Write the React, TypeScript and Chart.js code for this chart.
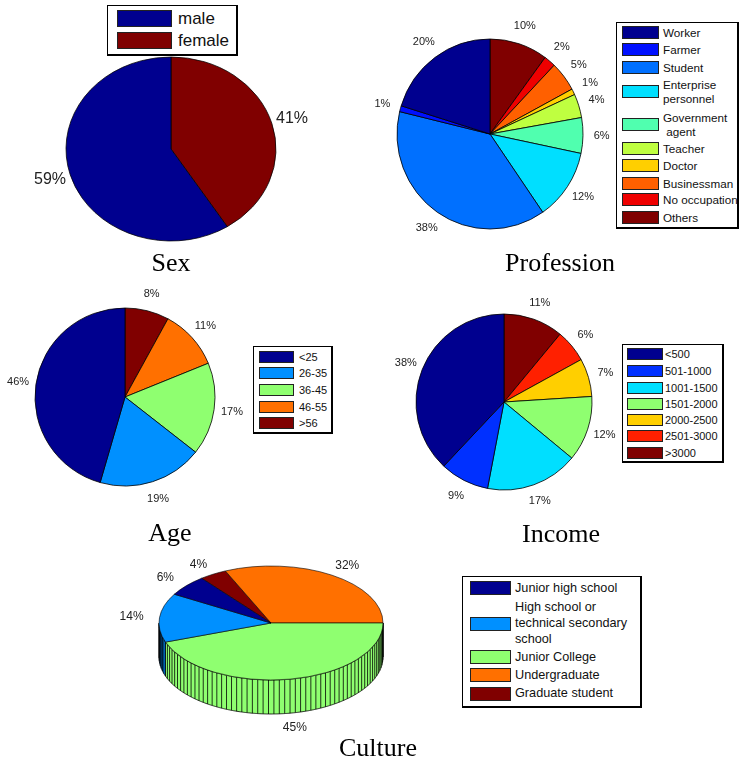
import React, { useEffect, useRef } from "react";
import { Chart, registerables } from "chart.js";

Chart.register(...registerables);

const W = 739;
const H = 764;

// ---------- DATA ----------
const sexLabels = ["male", "female"];
const sexValues = [59, 41];
const sexColors = ["#00008f", "#800000"];

const professionLabels = [
  "Worker",
  "Farmer",
  "Student",
  "Enterprise\npersonnel",
  "Government\n agent",
  "Teacher",
  "Doctor",
  "Businessman",
  "No occupation",
  "Others",
];
const professionValues = [20, 1, 38, 12, 6, 4, 1, 5, 2, 10];
const professionColors = [
  "#00008f",
  "#0010ff",
  "#0070ff",
  "#00dfff",
  "#50ffaf",
  "#bfff40",
  "#ffcf00",
  "#ff6000",
  "#ef0000",
  "#800000",
];

const ageLabels = ["<25", "26-35", "36-45", "46-55", ">56"];
const ageValues = [46, 19, 17, 11, 8];
const ageColors = ["#00008f", "#0090ff", "#8fff70", "#ff7000", "#800000"];

const incomeLabels = ["<500", "501-1000", "1001-1500", "1501-2000", "2000-2500", "2501-3000", ">3000"];
const incomeValues = [38, 9, 17, 12, 7, 6, 11];
const incomeColors = ["#00008f", "#0030ff", "#00dfff", "#8fff70", "#ffcf00", "#ff2000", "#800000"];

const cultureLabels = [
  "Junior high school",
  "High school or\ntechnical secondary\nschool",
  "Junior College",
  "Undergraduate",
  "Graduate student",
];
const cultureValues = [6, 14, 45, 32, 4];
const cultureColors = ["#00008f", "#0090ff", "#8fff70", "#ff7000", "#800000"];

const titles = ["Sex", "Profession", "Age", "Income", "Culture"];

// ---------- LAYOUT ----------
type PieSpec = {
  cx: number;
  cy: number;
  rx: number;
  ry: number;
  depth?: number;
  rotation: number;
  lfx: number;
  lfy: number;
  font: number;
};

const LABEL_FONT = '"Liberation Sans", Arial, Helvetica, sans-serif';
const TITLE_FONT = '"Liberation Serif", "Times New Roman", Times, serif';

function PieCanvas({ values, colors, spec }: { values: number[]; colors: string[]; spec: PieSpec }) {
  const ref = useRef<HTMLCanvasElement>(null);
  useEffect(() => {
    const canvas = ref.current!;
    const data = values.slice().reverse();
    const bg = colors.slice().reverse();
    const total = data.reduce((a, b) => a + b, 0);
    const half = 40;

    const plugin = {
      id: "ellipsePie",
      beforeDatasetsDraw(chart: any) {
        const ctx: CanvasRenderingContext2D = chart.ctx;
        const arcs = chart.getDatasetMeta(0).data as any[];
        if (!arcs.length) return;
        const cx = arcs[0].x;
        const cy = arcs[0].y;
        const r = arcs[0].outerRadius;
        const ry = spec.ry;
        const sy = ry / r;
        if (spec.depth) {
          const D = spec.depth;
          const pt = (a: number, dy: number): [number, number] => [
            cx + r * Math.cos(a),
            cy + ry * Math.sin(a) + dy,
          ];
          ctx.save();
          ctx.lineWidth = 0.8;
          ctx.strokeStyle = "#000";
          arcs.forEach((el: any, i: number) => {
            const a1 = el.startAngle;
            const a2 = el.endAngle;
            const n = Math.max(1, Math.ceil((130 * data[i]) / total));
            for (let k = -2; k <= 2; k++) {
              const lo = Math.max(a1, 2 * Math.PI * k);
              const hi = Math.min(a2, 2 * Math.PI * k + Math.PI);
              if (hi <= lo) continue;
              const steps = Math.max(2, Math.ceil((hi - lo) / 0.01));
              ctx.beginPath();
              for (let s = 0; s <= steps; s++) {
                const [x, y] = pt(lo + ((hi - lo) * s) / steps, 0);
                if (s === 0) ctx.moveTo(x, y);
                else ctx.lineTo(x, y);
              }
              for (let s = steps; s >= 0; s--) {
                const [x, y] = pt(lo + ((hi - lo) * s) / steps, D);
                ctx.lineTo(x, y);
              }
              ctx.closePath();
              ctx.fillStyle = bg[i];
              ctx.fill();
              ctx.stroke();
              ctx.beginPath();
              for (let j = 1; j < n; j++) {
                const a = a1 + ((a2 - a1) * j) / n;
                if (a > lo && a < hi) {
                  const [x0, y0] = pt(a, 0);
                  ctx.moveTo(x0, y0);
                  ctx.lineTo(x0, y0 + D);
                }
              }
              ctx.stroke();
            }
          });
          ctx.restore();
        }
        ctx.save();
        ctx.translate(cx, cy);
        ctx.scale(1, sy);
        ctx.translate(-cx, -cy);
      },
      afterDatasetsDraw(chart: any) {
        const ctx: CanvasRenderingContext2D = chart.ctx;
        ctx.restore();
        const arcs = chart.getDatasetMeta(0).data as any[];
        ctx.save();
        ctx.font = `${spec.font}px ${LABEL_FONT}`;
        ctx.fillStyle = "#222";
        ctx.textAlign = "center";
        ctx.textBaseline = "middle";
        arcs.forEach((el: any, i: number) => {
          const m = (el.startAngle + el.endAngle) / 2;
          const r = el.outerRadius;
          let lx = el.x + spec.lfx * r * Math.cos(m);
          let ly = el.y + spec.lfy * spec.ry * Math.sin(m);
          if (spec.depth && Math.sin(m) > 0) ly += spec.depth * 1.1 * Math.sin(m);
          ctx.fillText(`${data[i]}%`, lx, ly);
        });
        ctx.restore();
      },
    };

    const chart = new Chart(canvas, {
      type: "pie",
      data: {
        labels: data.map((_, i) => String(i)),
        datasets: [
          {
            data,
            backgroundColor: bg,
            borderColor: "#000",
            borderWidth: 0.8,
            radius: spec.rx,
            rotation: spec.rotation,
            clip: false,
          } as any,
        ],
      },
      options: {
        responsive: false,
        maintainAspectRatio: false,
        animation: false,
        events: [],
        layout: {
          padding: {
            left: spec.cx - half,
            right: W - spec.cx - half,
            top: spec.cy - half,
            bottom: H - spec.cy - half,
          },
        },
        plugins: { legend: { display: false }, tooltip: { enabled: false } },
      } as any,
      plugins: [plugin as any],
    });
    return () => chart.destroy();
  }, []);
  return (
    <canvas
      ref={ref}
      width={W}
      height={H}
      style={{ position: "absolute", left: 0, top: 0, width: W, height: H, pointerEvents: "none" }}
    />
  );
}

type LegendSpec = {
  box: { x: number; y: number; w: number; h: number };
  sw: { x: number; w: number; h: number };
  textX: number;
  rows: number[];
  font: number;
  lineGap: number;
};

function Legend({ labels, colors, spec }: { labels: string[]; colors: string[]; spec: LegendSpec }) {
  const lineH = Math.round(spec.font * 1.3);
  return (
    <>
      <div
        style={{
          position: "absolute",
          left: spec.box.x,
          top: spec.box.y,
          width: spec.box.w,
          height: spec.box.h,
          border: "1px solid #000",
          borderRightWidth: 2,
          borderBottomWidth: 2,
          boxSizing: "border-box",
          background: "#fff",
        }}
      />
      {labels.map((lab, i) => {
        const c = spec.rows[i];
        const lines = lab.split("\n");
        return (
          <React.Fragment key={i}>
            <div
              style={{
                position: "absolute",
                left: spec.sw.x,
                top: c - spec.sw.h / 2,
                width: spec.sw.w,
                height: spec.sw.h,
                background: colors[i],
                border: "1px solid #222",
                boxSizing: "border-box",
              }}
            />
            {lines.map((ln, j) => (
              <div
                key={j}
                style={{
                  position: "absolute",
                  left: spec.textX,
                  top: c + (j - (lines.length - 1) / 2) * spec.lineGap - lineH / 2,
                  height: lineH,
                  lineHeight: `${lineH}px`,
                  fontFamily: LABEL_FONT,
                  fontSize: spec.font,
                  color: "#111",
                  whiteSpace: "pre",
                }}
              >
                {ln}
              </div>
            ))}
          </React.Fragment>
        );
      })}
    </>
  );
}

function Title({ text, x, baseline }: { text: string; x: number; baseline: number }) {
  return (
    <div
      style={{
        position: "absolute",
        left: x - 100,
        width: 200,
        top: baseline - 24,
        height: 30,
        lineHeight: "30px",
        textAlign: "center",
        fontFamily: TITLE_FONT,
        fontSize: 26,
        color: "#000",
      }}
    >
      {text}
    </div>
  );
}

const sexPie: PieSpec = { cx: 171, cy: 149, rx: 105, ry: 92, rotation: 0, lfx: 1.2, lfy: 1.2, font: 16 };
const professionPie: PieSpec = { cx: 490, cy: 134, rx: 93, ry: 95, rotation: 0, lfx: 1.2, lfy: 1.2, font: 11 };
const agePie: PieSpec = { cx: 125, cy: 397, rx: 90, ry: 89, rotation: 0, lfx: 1.2, lfy: 1.2, font: 11 };
const incomePie: PieSpec = { cx: 504, cy: 402, rx: 88, ry: 88, rotation: 0, lfx: 1.2, lfy: 1.2, font: 11 };
const culturePie: PieSpec = {
  cx: 271,
  cy: 623,
  rx: 112,
  ry: 57,
  depth: 34,
  rotation: -38.3,
  lfx: 1.25,
  lfy: 1.2,
  font: 12,
};

const sexLegend: LegendSpec = {
  box: { x: 107, y: 5, w: 131, h: 51 },
  sw: { x: 117, w: 55, h: 17 },
  textX: 178,
  rows: [18.5, 40.5],
  font: 17,
  lineGap: 18,
};
const professionLegend: LegendSpec = {
  box: { x: 616, y: 22, w: 123, h: 207 },
  sw: { x: 622, w: 37, h: 13 },
  textX: 663,
  rows: [32.5, 49.7, 67, 91.3, 124, 148, 165.5, 183, 199.5, 217],
  font: 11.7,
  lineGap: 14,
};
const ageLegend: LegendSpec = {
  box: { x: 253, y: 346, w: 80, h: 88 },
  sw: { x: 259, w: 35, h: 12 },
  textX: 299,
  rows: [357, 373, 390, 407, 423],
  font: 11,
  lineGap: 14,
};
const incomeLegend: LegendSpec = {
  box: { x: 622, y: 344, w: 102, h: 119 },
  sw: { x: 627, w: 36, h: 12 },
  textX: 665,
  rows: [354, 371, 388, 404, 420, 436, 453],
  font: 11,
  lineGap: 14,
};
const cultureLegend: LegendSpec = {
  box: { x: 462, y: 576, w: 180, h: 132 },
  sw: { x: 470, w: 41, h: 14 },
  textX: 515,
  rows: [588, 623.5, 657, 675, 693.5],
  font: 12.7,
  lineGap: 16,
};

export default function App() {
  return (
    <div
      style={{
        position: "absolute",
        left: 0,
        top: 0,
        width: W,
        height: H,
        background: "#fff",
        overflow: "hidden",
      }}
    >
      <PieCanvas values={sexValues} colors={sexColors} spec={sexPie} />
      <PieCanvas values={professionValues} colors={professionColors} spec={professionPie} />
      <PieCanvas values={ageValues} colors={ageColors} spec={agePie} />
      <PieCanvas values={incomeValues} colors={incomeColors} spec={incomePie} />
      <PieCanvas values={cultureValues} colors={cultureColors} spec={culturePie} />

      <Legend labels={sexLabels} colors={sexColors} spec={sexLegend} />
      <Legend labels={professionLabels} colors={professionColors} spec={professionLegend} />
      <Legend labels={ageLabels} colors={ageColors} spec={ageLegend} />
      <Legend labels={incomeLabels} colors={incomeColors} spec={incomeLegend} />
      <Legend labels={cultureLabels} colors={cultureColors} spec={cultureLegend} />

      <Title text={titles[0]} x={171} baseline={272} />
      <Title text={titles[1]} x={560} baseline={272} />
      <Title text={titles[2]} x={170} baseline={542} />
      <Title text={titles[3]} x={561} baseline={543} />
      <Title text={titles[4]} x={378} baseline={757} />
    </div>
  );
}
